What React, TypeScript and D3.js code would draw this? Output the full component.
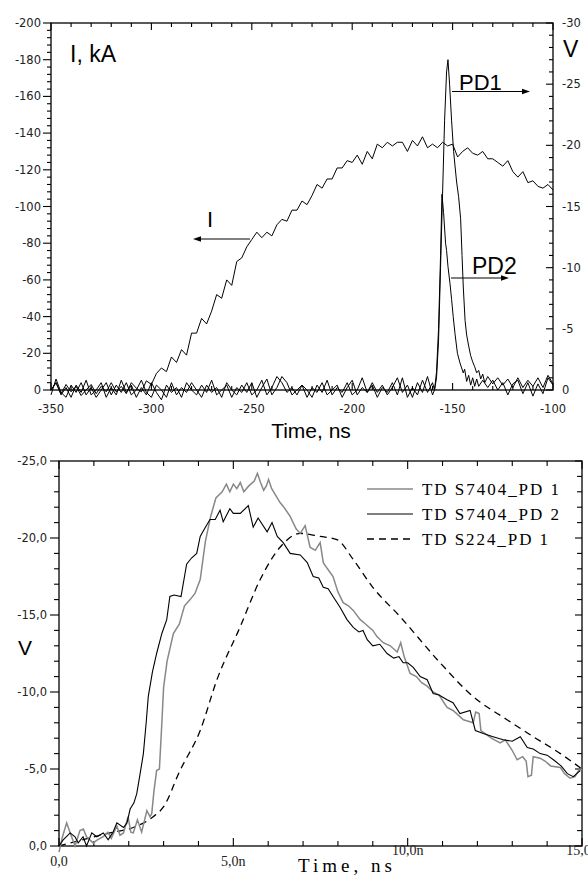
import React from 'react';
import * as d3 from 'd3';

// ---------- DATA ----------
// Top panel: current I (kA), time in ns
const currentI: [number, number][] = [
  [-350, 0], [-347.5, -4], [-345, 2], [-342.5, -3], [-340, 1], [-337.5, -2], [-335, 3], [-332.5, 0],
  [-330, -3], [-327.5, 2], [-325, -2], [-322.5, 1], [-320, -4], [-317.5, 1], [-315, -2], [-312.5, 2],
  [-310, -4], [-307.5, -1], [-305, 1], [-302.5, -5], [-300, -3], [-297.5, -9], [-295, -12], [-292.5, -10],
  [-290, -18], [-287.5, -15], [-285, -22], [-282.5, -19], [-280, -31], [-277.5, -31], [-275, -39], [-272.5, -36],
  [-270, -43], [-267.5, -52], [-265, -50], [-262.5, -60], [-260, -57], [-257.5, -70], [-255, -72], [-252.5, -78],
  [-250, -82], [-247.5, -86], [-245, -83], [-242.5, -86], [-240, -84], [-237.5, -90], [-235, -93], [-232.5, -92],
  [-230, -98], [-227.5, -98], [-225, -103], [-222.5, -101], [-220, -106], [-217.5, -112], [-215, -110], [-212.5, -115],
  [-210, -115], [-207.5, -121], [-205, -121], [-202.5, -125], [-200, -124], [-197.5, -128], [-195, -123], [-192.5, -130],
  [-190, -126], [-187.5, -134], [-185, -132], [-182.5, -135], [-180, -133], [-177.5, -135], [-175, -135], [-172.5, -130],
  [-170, -136], [-167.5, -133], [-165, -138], [-162.5, -132], [-160, -134], [-157.5, -132], [-155, -135], [-152.5, -133],
  [-150, -134], [-147.5, -127], [-145, -130], [-142.5, -132], [-140, -129], [-137.5, -128], [-135, -130], [-132.5, -126],
  [-130, -126], [-127.5, -124], [-125, -122], [-122.5, -125], [-120, -119], [-117.5, -116], [-115, -119], [-112.5, -113],
  [-110, -114], [-107.5, -111], [-105, -110], [-102.5, -112], [-100, -109],
];

// Top panel: PD1 signal (V)
const pd1Top: [number, number][] = [
  [-350, 0], [-347.5, -0.6], [-345, 0.4], [-342.5, -0.2], [-340, 0.6], [-337.5, -0.4], [-335, 0.2], [-332.5, -0.8],
  [-330, 0.4], [-327.5, 0], [-325, -0.6], [-322.5, 0.6], [-320, -0.2], [-317.5, 0.4], [-315, -0.8], [-312.5, 0.2],
  [-310, -0.4], [-307.5, 0.6], [-305, -0.2], [-302.5, 0.4], [-300, -0.6], [-297.5, 0.2], [-295, 0.8], [-292.5, -0.4],
  [-290, 0.2], [-287.5, -0.2], [-285, 0.6], [-282.5, -0.6], [-280, 0], [-277.5, 0.4], [-275, -0.4], [-272.5, 0.2],
  [-270, -0.8], [-267.5, 0.4], [-265, 0], [-262.5, -0.4], [-260, 0.6], [-257.5, -0.2], [-255, 0.2], [-252.5, -0.6],
  [-250, 0.4], [-247.5, 0], [-245, -0.8], [-242.5, 0.4], [-240, -0.2], [-237.5, -1.1], [-235, -0.6], [-232.5, 0.2],
  [-230, -0.2], [-227.5, 0.4], [-225, -0.4], [-222.5, 0], [-220, 0.6], [-217.5, -0.4], [-215, 0.2], [-212.5, -0.8],
  [-210, 0.4], [-207.5, -0.2], [-205, 0.2], [-202.5, -0.6], [-200, 0.4], [-197.5, 0], [-195, -1.0], [-192.5, 0.2],
  [-190, -0.4], [-187.5, 0.6], [-185, -0.2], [-182.5, 0.2], [-180, -0.6], [-177.5, 0.4], [-175, -1.0], [-172.5, 0.6],
  [-170, -0.2], [-167.5, 0.4], [-165, -0.8], [-162.5, 0.2], [-160, -0.6], [-159, 0], [-158, -1], [-157, -4],
  [-156, -10], [-155, -16], [-154, -22], [-153, -26], [-152.3, -27], [-151.5, -25], [-150.5, -22], [-149.5, -19.5],
  [-148, -17], [-147, -15.8], [-146, -14], [-145.3, -11], [-144.7, -8.5], [-143.8, -5.7], [-143, -4.5], [-142, -3.6],
  [-141, -2.8], [-140, -2.3], [-139, -1.9], [-138, -1.4], [-137, -1.6], [-136, -0.9], [-135, -1.3], [-134, -0.6],
  [-132.5, -1.1], [-130, -0.5], [-127.5, -1.0], [-125, -0.4], [-122.5, -0.9], [-120, -0.2], [-117.5, -1.0], [-115, -0.2],
  [-112.5, -0.8], [-110, -0.3], [-107.5, -1.0], [-105, -0.2], [-102.5, -1.2], [-100, -0.5],
];

// Top panel: PD2 signal (V)
const pd2Top: [number, number][] = [
  [-350, 0.4], [-347.5, -0.9], [-345, 0.2], [-342.5, 0.6], [-340, -0.4], [-337.5, 0.2], [-335, -0.6], [-332.5, 0.4],
  [-330, -0.2], [-327.5, 0.6], [-325, 0], [-322.5, -0.6], [-320, 0.4], [-317.5, -0.4], [-315, 0.2], [-312.5, -0.6],
  [-310, 0.4], [-307.5, 0], [-305, -0.8], [-302.5, 0.2], [-300, 0.6], [-297.5, -0.4], [-295, 0], [-292.5, 0.6],
  [-290, -0.6], [-287.5, 0.4], [-285, -0.2], [-282.5, 0.2], [-280, -0.6], [-277.5, 0], [-275, 0.6], [-272.5, -0.4],
  [-270, 0.2], [-267.5, -0.2], [-265, 0.6], [-262.5, -0.6], [-260, 0], [-257.5, 0.4], [-255, -0.4], [-252.5, 0.2],
  [-250, -0.6], [-247.5, 0.6], [-245, -0.2], [-242.5, -0.9], [-240, 0.4], [-237.5, -0.2], [-235, -1.1], [-232.5, -0.6],
  [-230, 0.4], [-227.5, 0], [-225, -0.4], [-222.5, 0.6], [-220, -0.2], [-217.5, 0.2], [-215, -0.6], [-212.5, 0.4],
  [-210, 0], [-207.5, -0.4], [-205, 0.6], [-202.5, -0.2], [-200, -0.8], [-197.5, 0.4], [-195, -0.2], [-192.5, 0.2],
  [-190, -0.6], [-187.5, 0.2], [-185, -0.4], [-182.5, 0.4], [-180, -0.2], [-177.5, -1.0], [-175, 0.2], [-172.5, -0.4],
  [-170, 0.6], [-167.5, -0.6], [-165, 0.2], [-162.5, -1.1], [-160, 0.4], [-159, 0], [-158, -1.5], [-157, -5],
  [-156, -11], [-155.3, -16], [-154.5, -14.5], [-153.5, -12], [-153, -11.4], [-152.3, -10.1], [-151.3, -8.7], [-150.5, -7.4],
  [-149.7, -6], [-148.8, -4.6], [-147.6, -3], [-146.3, -2.2], [-145.5, -1.8], [-144.7, -1.4], [-144, -1.7], [-143, -0.7],
  [-142, -1.2], [-141, -0.4], [-140, -1.0], [-139, -0.3], [-138, -0.9], [-137, -0.3], [-135, -0.8], [-132.5, -0.2],
  [-130, -0.8], [-127.5, 0], [-125, -0.6], [-122.5, 0.4], [-120, -0.5], [-117.5, -0.8], [-115, 0.3], [-112.5, -0.6],
  [-110, 0.5], [-107.5, -0.5], [-105, 0.3], [-102.5, -1.0], [-100, -0.4],
];

// Bottom panel: time (ns) vs V
const tds7404Pd1: [number, number][] = [
  [0.0, 0.4], [0.1, -0.6], [0.22, -1.5], [0.33, -0.8], [0.46, 0.0], [0.6, -1.0], [0.7, -1.1], [0.79, -0.6],
  [0.98, -0.2], [1.1, -0.4], [1.27, -0.6], [1.4, -0.9], [1.5, -0.5], [1.66, -1.3], [1.75, -0.7], [1.85, -0.85],
  [1.98, -1.9], [2.06, -0.9], [2.13, -0.85], [2.25, -1.7], [2.37, -0.9], [2.52, -2.3], [2.61, -1.9], [2.66, -2.1],
  [2.72, -3.5], [2.8, -4.9], [2.88, -5.0], [2.95, -8.0], [3.0, -10.3], [3.1, -12.0], [3.28, -13.8], [3.45, -14.4],
  [3.6, -15.6], [3.76, -16.0], [3.9, -16.4], [4.05, -17.3], [4.2, -19.8], [4.35, -21.4], [4.5, -22.6], [4.68, -23.0],
  [4.8, -23.5], [4.9, -23.0], [5.0, -23.5], [5.1, -23.2], [5.2, -23.6], [5.3, -23.0], [5.45, -23.4], [5.6, -23.7],
  [5.69, -24.2], [5.78, -23.6], [5.87, -23.1], [5.95, -23.4], [6.01, -23.8], [6.1, -23.2], [6.34, -22.3], [6.45, -22.0],
  [6.63, -21.4], [6.8, -20.6], [6.92, -20.3], [7.06, -20.8], [7.2, -19.4], [7.35, -19.2], [7.49, -19.7], [7.58, -18.4],
  [7.7, -18.0], [7.86, -17.5], [8.0, -16.5], [8.15, -15.8], [8.3, -15.6], [8.44, -15.3], [8.64, -14.7], [8.75, -14.5],
  [9.0, -14.0], [9.12, -13.6], [9.3, -13.2], [9.5, -13.0], [9.7, -12.6], [9.8, -13.2], [9.9, -12.3], [10.07, -11.2],
  [10.25, -11.0], [10.4, -10.6], [10.55, -10.4], [10.73, -10.0], [10.9, -9.8], [11.13, -9.0], [11.3, -8.8], [11.5, -8.4],
  [11.6, -8.2], [11.88, -8.0], [11.95, -8.7], [12.05, -8.6], [12.1, -7.5], [12.4, -7.0], [12.65, -6.7], [12.8, -6.9],
  [13.0, -6.2], [13.14, -5.6], [13.3, -5.8], [13.4, -5.5], [13.45, -4.5], [13.55, -4.6], [13.6, -5.8], [13.8, -5.7],
  [13.95, -5.5], [14.1, -5.2], [14.38, -5.1], [14.5, -4.7], [14.66, -4.4], [14.8, -4.5], [14.9, -4.9], [15.0, -5.0],
];

const tds7404Pd2: [number, number][] = [
  [0.0, 0.0], [0.12, -0.4], [0.32, -0.85], [0.46, -0.6], [0.55, -0.2], [0.69, -0.6], [0.79, 0.0], [0.94, -0.85],
  [1.08, -0.6], [1.27, -0.85], [1.41, -0.4], [1.55, -0.9], [1.66, -1.5], [1.85, -1.2], [1.95, -1.5], [2.04, -2.4],
  [2.15, -2.8], [2.23, -3.4], [2.32, -4.6], [2.42, -6.0], [2.5, -8.0], [2.56, -9.7], [2.68, -11.3], [2.8, -12.5],
  [2.95, -13.8], [3.09, -14.7], [3.18, -16.2], [3.3, -16.3], [3.5, -16.2], [3.66, -18.3], [3.8, -18.7], [3.95, -19.0],
  [4.05, -20.1], [4.15, -20.5], [4.33, -21.2], [4.48, -21.2], [4.62, -21.8], [4.71, -21.05], [4.9, -21.9], [5.0, -21.6],
  [5.2, -21.6], [5.43, -22.1], [5.57, -20.7], [5.71, -21.3], [5.97, -20.4], [6.11, -21.0], [6.26, -20.1], [6.43, -19.7],
  [6.63, -19.0], [6.92, -18.9], [7.12, -18.4], [7.29, -17.5], [7.45, -17.4], [7.58, -16.8], [7.72, -16.7], [7.86, -16.2],
  [8.06, -15.5], [8.26, -14.7], [8.44, -14.2], [8.6, -13.9], [8.72, -14.0], [8.84, -13.4], [9.0, -13.0], [9.2, -13.1],
  [9.41, -12.5], [9.6, -12.2], [9.75, -12.3], [9.87, -11.9], [10.0, -11.9], [10.16, -11.6], [10.36, -11.0], [10.56, -10.8],
  [10.73, -9.9], [10.9, -9.8], [11.13, -9.5], [11.3, -9.3], [11.5, -8.6], [11.79, -8.8], [11.94, -7.5], [12.17, -7.3],
  [12.45, -7.1], [12.74, -6.9], [13.0, -6.8], [13.23, -7.1], [13.43, -6.4], [13.6, -6.3], [13.8, -6.0], [14.0, -5.9],
  [14.18, -5.6], [14.4, -5.2], [14.58, -4.7], [14.75, -4.5], [14.95, -4.9],
];

const tds224Pd1: [number, number][] = [
  [0.0, 0.0], [0.5, -0.3], [1.0, -0.6], [1.46, -0.85], [2.13, -1.2], [2.7, -1.9], [3.0, -2.55], [3.47, -4.9],
  [4.05, -7.5], [4.53, -10.8], [5.19, -14.2], [5.77, -17.3], [6.34, -19.4], [6.92, -20.3], [7.49, -20.1], [7.97, -19.9],
  [8.44, -18.6], [9.0, -16.8], [9.78, -14.9], [10.93, -11.9], [11.88, -9.7], [12.85, -8.2], [13.6, -7.1], [14.38, -6.0],
  [15.0, -5.0],
];

// Tick labels
const topXTicks = [-350, -300, -250, -200, -150, -100];
const topLeftTicks = [0, -20, -40, -60, -80, -100, -120, -140, -160, -180, -200];
const topRightTicks = [0, -5, -10, -15, -20, -25, -30];
const botYTicks = [0, -5, -10, -15, -20, -25];
const botXTicks = [0, 5, 10, 15];
const botXLabels = ['0,0', '5,0n', '10,0n', '15,0n'];
const legendLabels = ['TD S7404_PD 1', 'TD S7404_PD 2', 'TD S224_PD 1'];

// ---------- CHART ----------
const SANS = 'DejaVu Sans, sans-serif';
const ARIAL = 'Liberation Sans, Arial, sans-serif';
const SERIF = 'Liberation Serif, serif';

export default function App() {
  const xT = d3.scaleLinear().domain([-350, -100]).range([51, 553]);
  const yTL = d3.scaleLinear().domain([0, -200]).range([390, 23]);
  const yTR = d3.scaleLinear().domain([0, -30]).range([390, 23]);
  const xB = d3.scaleLinear().domain([0, 15]).range([59, 582]);
  const yB = d3.scaleLinear().domain([0, -25]).range([846, 461]);

  const lineI = d3.line<[number, number]>().x(d => xT(d[0])).y(d => yTL(d[1]));
  const lineV = d3.line<[number, number]>().x(d => xT(d[0])).y(d => yTR(d[1]));
  const lineB = d3.line<[number, number]>().x(d => xB(d[0])).y(d => yB(d[1]));
  const lineBSmooth = d3.line<[number, number]>().x(d => xB(d[0])).y(d => yB(d[1])).curve(d3.curveMonotoneX);

  const [tx0, tx1] = xT.range();
  const [ty0, ty1] = [yTL(0), yTL(-200)];
  const [bx0, bx1] = xB.range();
  const [by0, by1] = [yB(0), yB(-25)];

  const ticks: React.ReactNode[] = [];
  d3.range(-350, -99, 10).forEach(t => {
    const len = t % 50 === 0 ? 7 : 4;
    const x = xT(t);
    ticks.push(<line key={`tx${t}`} x1={x} x2={x} y1={ty0} y2={ty0 - len} />);
    ticks.push(<line key={`txt${t}`} x1={x} x2={x} y1={ty1} y2={ty1 + len} />);
  });
  d3.range(0, -201, -4).forEach(v => {
    const len = v % 20 === 0 ? 8 : 4;
    const y = yTL(v);
    ticks.push(<line key={`tl${v}`} x1={tx0 - len} x2={tx0} y1={y} y2={y} />);
  });
  d3.range(0, -31, -1).forEach(v => {
    const len = v % 5 === 0 ? 7 : 4;
    const y = yTR(v);
    ticks.push(<line key={`tr${v}`} x1={tx1 - len} x2={tx1} y1={y} y2={y} />);
  });
  d3.range(0, 15.01, 1).forEach(t => {
    const len = t % 5 === 0 ? 8 : 5;
    const x = xB(t);
    ticks.push(<line key={`bx${t}`} x1={x} x2={x} y1={by0} y2={by0 - len} />);
    ticks.push(<line key={`bxt${t}`} x1={x} x2={x} y1={by1} y2={by1 + len} />);
  });
  d3.range(0, -25.01, -1).forEach(v => {
    const len = v % 5 === 0 ? 9 : 5;
    const y = yB(v);
    ticks.push(<line key={`bl${v}`} x1={bx0 - len} x2={bx0} y1={y} y2={y} />);
    ticks.push(<line key={`br${v}`} x1={bx1 - (v % 5 === 0 ? 7 : 5)} x2={bx1} y1={y} y2={y} />);
  });

  const arrowRight = (x1: number, x2: number, y: number) => (
    <g>
      <line x1={x1} x2={x2 - 6} y1={y} y2={y} stroke="#000" strokeWidth={1} />
      <path d={`M${x2},${y}L${x2 - 8},${y - 2.8}L${x2 - 8},${y + 2.8}Z`} fill="#000" />
    </g>
  );
  const arrowLeft = (x1: number, x2: number, y: number) => (
    <g>
      <line x1={x1} x2={x2 + 6} y1={y} y2={y} stroke="#000" strokeWidth={1} />
      <path d={`M${x2},${y}L${x2 + 8},${y - 2.8}L${x2 + 8},${y + 2.8}Z`} fill="#000" />
    </g>
  );

  const legendStyles = [
    { stroke: '#888', width: 1.5, dash: undefined as string | undefined },
    { stroke: '#000', width: 1.2, dash: undefined as string | undefined },
    { stroke: '#000', width: 1.3, dash: '7,5' },
  ];
  const legendWidths = [137, 137, 126];

  return (
    <svg width={588} height={876} viewBox="0 0 588 876"
      style={{ position: 'absolute', left: 0, top: 0, background: '#fff' }}>
      <rect x={0} y={0} width={588} height={876} fill="#fff" />
      <g stroke="#000" strokeWidth={1.3} fill="none">
        <rect x={tx0} y={ty1} width={tx1 - tx0} height={ty0 - ty1} />
        <rect x={bx0} y={by1} width={bx1 - bx0} height={by0 - by1} />
      </g>
      <g stroke="#000" strokeWidth={1.1}>{ticks}</g>

      <g fontFamily={SANS} fontSize={11.5} fill="#222">
        {topXTicks.map(t => (
          <text key={`lx${t}`} x={xT(t)} y={413} textAnchor="middle">{t}</text>
        ))}
        {topLeftTicks.map(v => (
          <text key={`ll${v}`} x={41} y={yTL(v) + 4} textAnchor="end">{v}</text>
        ))}
        {topRightTicks.map(v => (
          <text key={`lr${v}`} x={562} y={yTR(v) + 4} textAnchor="start">{v}</text>
        ))}
        {botYTicks.map(v => (
          <text key={`bl${v}`} x={47} y={yB(v) + 4} textAnchor="end">{v.toFixed(1).replace('.', ',')}</text>
        ))}
      </g>
      <g fontFamily={SERIF} fontSize={14} fill="#222">
        {botXTicks.map((t, i) => (
          <text key={`bxl${t}`} x={xB(t)} y={i < 2 ? 866 : 855} textAnchor="middle">{botXLabels[i]}</text>
        ))}
      </g>

      <g fill="none" stroke="#000" strokeWidth={1}>
        <path d={lineV(pd2Top) || ''} />
        <path d={lineV(pd1Top) || ''} />
        <path d={lineI(currentI) || ''} />
      </g>

      <g fontFamily={ARIAL} fill="#000">
        <text x={70} y={62} fontSize={23}>I, kA</text>
        <text x={563} y={57} fontSize={23}>V</text>
        <text x={459} y={90} fontSize={22}>PD1</text>
        <text x={472} y={274} fontSize={23}>PD2</text>
        <text x={207} y={227} fontSize={22}>I</text>
        <text x={311} y={438} fontSize={21} textAnchor="middle">Time, ns</text>
      </g>
      {arrowRight(452, 530, 91.5)}
      {arrowRight(451, 509, 278)}
      {arrowLeft(250, 193, 239)}

      <g fill="none">
        <path d={lineBSmooth(tds224Pd1) || ''} stroke="#000" strokeWidth={1.3} strokeDasharray="7,5" />
        <path d={lineB(tds7404Pd1) || ''} stroke="#888" strokeWidth={1.5} />
        <path d={lineB(tds7404Pd2) || ''} stroke="#000" strokeWidth={1.1} />
      </g>

      {legendLabels.map((lab, i) => {
        const y = 489 + i * 25;
        const s = legendStyles[i];
        return (
          <g key={lab}>
            <line x1={367} x2={413} y1={y} y2={y} stroke={s.stroke} strokeWidth={s.width} strokeDasharray={s.dash} />
            <text x={422} y={y + 6} fontFamily={SERIF} fontSize={17} fill="#000"
              textLength={legendWidths[i]} lengthAdjust="spacing">{lab}</text>
          </g>
        );
      })}

      <text x={18} y={655} fontFamily={ARIAL} fontSize={21} fill="#000">V</text>
      <text x={298} y={872} fontFamily={SERIF} fontSize={19} fill="#000" textLength={94} lengthAdjust="spacing">Time, ns</text>
    </svg>
  );
}
